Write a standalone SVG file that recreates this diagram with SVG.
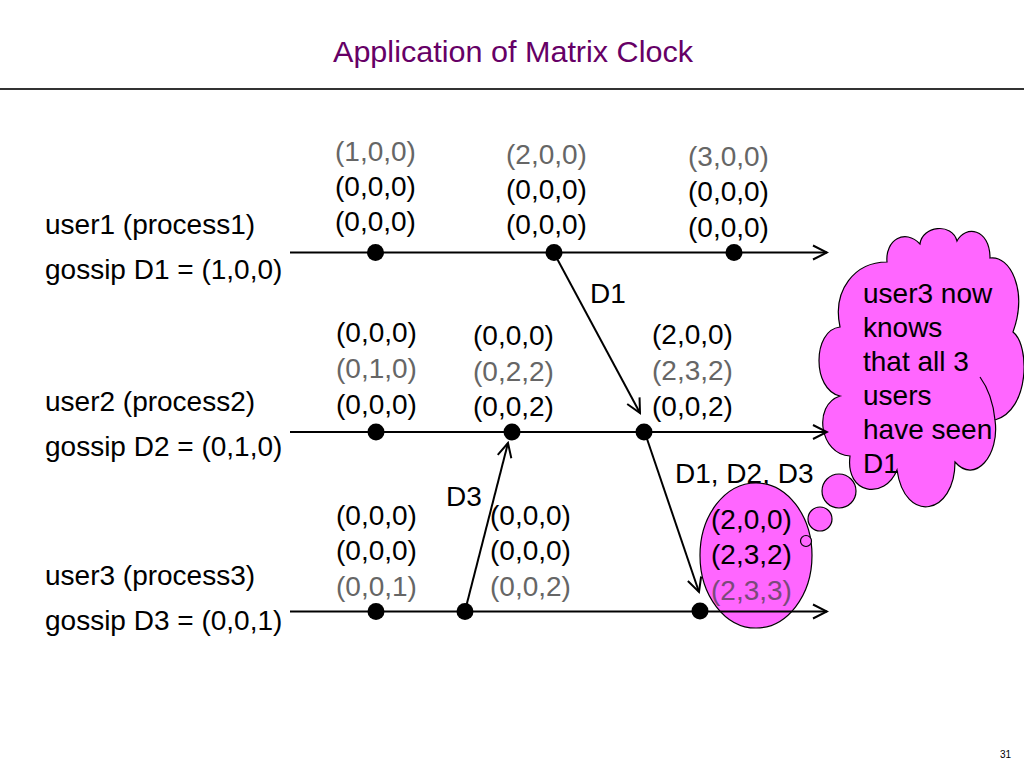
<svg xmlns="http://www.w3.org/2000/svg" width="1024" height="768" viewBox="0 0 1024 768">
<style>
text{font-family:"Liberation Sans",Arial,sans-serif;font-size:28px;fill:#000}
.g{fill:#666666}
.gp{fill:#7a4a7a}
.title{font-size:30px;fill:#660066}
.tl{stroke:#000;stroke-width:2;fill:none}
.msg{stroke:#000;stroke-width:2;fill:none}
.dot{fill:#000}
.pink{fill:#ff66ff;stroke:#000;stroke-width:1.2}
</style>
<defs>
<marker id="arr" markerUnits="userSpaceOnUse" viewBox="0 0 18 18" markerWidth="18" markerHeight="18" refX="16" refY="9" orient="auto">
<path d="M2,2 L16,9 L2,16" fill="none" stroke="#000" stroke-width="2"/>
</marker>
</defs>
<rect width="1024" height="768" fill="#fff"/>
<g id="title">
<text class="title" x="513" y="62" text-anchor="middle" textLength="360" lengthAdjust="spacingAndGlyphs">Application of Matrix Clock</text>
<line x1="0" y1="89" x2="1024" y2="89" stroke="#333" stroke-width="2"/>
</g>
<g id="labels">
<text x="45" y="234">user1 (process1)</text>
<text x="45" y="279">gossip D1 = (1,0,0)</text>
<text x="45" y="411">user2 (process2)</text>
<text x="45" y="456">gossip D2 = (0,1,0)</text>
<text x="45" y="585">user3 (process3)</text>
<text x="45" y="630">gossip D3 = (0,0,1)</text>
</g>
<g id="msg-label-d123">
<text x="675" y="483">D1, D2, D3</text>
</g>
<g id="thought-bubble">
<ellipse class="pink" cx="756" cy="555.5" rx="56" ry="72.5"/>
<circle class="pink" cx="806" cy="541" r="5.5"/>
<circle class="pink" cx="820" cy="519" r="12"/>
<circle class="pink" cx="839" cy="491" r="17"/>
<path class="pink" d="M887,262 C885,240 905,228 920,244 C922,226 952,222 957,241 C965,225 990,228 990,258 C1010,255 1028,290 1013,332 C1030,345 1030,410 995,420 C1000,455 975,485 955,462 C955,515 905,525 897,470 C885,500 845,495 850,456 C820,455 812,405 840,396 C812,390 812,330 840,327 C832,290 855,262 887,262 Z"/>
<path d="M980,377 C988,388 993,400 995,420" fill="none" stroke="#000" stroke-width="1.2"/>
<text x="863" y="303">user3 now</text>
<text x="863" y="337">knows</text>
<text x="863" y="371">that all 3</text>
<text x="863" y="405">users</text>
<text x="863" y="439">have seen</text>
<text x="863" y="473">D1</text>
</g>
<g id="connectors">
<line class="tl" x1="290" y1="252.5" x2="827" y2="252.5" marker-end="url(#arr)"/>
<line class="tl" x1="290" y1="432" x2="827" y2="432" marker-end="url(#arr)"/>
<line class="tl" x1="290" y1="611.5" x2="827" y2="611.5" marker-end="url(#arr)"/>
<line class="msg" x1="554" y1="253" x2="640" y2="413" marker-end="url(#arr)"/>
<line class="msg" x1="645" y1="433" x2="699" y2="592" marker-end="url(#arr)"/>
<line class="msg" x1="465" y1="611" x2="508" y2="443" marker-end="url(#arr)"/>
<text x="590" y="303">D1</text>
<text x="446" y="506">D3</text>
</g>
<g id="events">
<circle class="dot" cx="375.5" cy="252.5" r="8.5"/>
<circle class="dot" cx="554" cy="252.5" r="8.5"/>
<circle class="dot" cx="734" cy="252.5" r="8.5"/>
<circle class="dot" cx="376" cy="432" r="8.5"/>
<circle class="dot" cx="512" cy="432" r="8.5"/>
<circle class="dot" cx="644" cy="432" r="8.5"/>
<circle class="dot" cx="376" cy="611.5" r="8.5"/>
<circle class="dot" cx="465" cy="611.5" r="8.5"/>
<circle class="dot" cx="700" cy="611" r="8.5"/>
</g>
<g id="clock-u1-e1">
<text class="g" x="335" y="161">(1,0,0)</text>
<text x="335" y="196">(0,0,0)</text>
<text x="335" y="231">(0,0,0)</text>
</g>
<g id="clock-u1-e2">
<text class="g" x="506" y="164">(2,0,0)</text>
<text x="506" y="199">(0,0,0)</text>
<text x="506" y="234">(0,0,0)</text>
</g>
<g id="clock-u1-e3">
<text class="g" x="688" y="166">(3,0,0)</text>
<text x="688" y="201">(0,0,0)</text>
<text x="688" y="237">(0,0,0)</text>
</g>
<g id="clock-u2-e1">
<text x="336" y="342">(0,0,0)</text>
<text class="g" x="336" y="378">(0,1,0)</text>
<text x="336" y="414">(0,0,0)</text>
</g>
<g id="clock-u2-e2">
<text x="473" y="345">(0,0,0)</text>
<text class="g" x="473" y="381">(0,2,2)</text>
<text x="473" y="416">(0,0,2)</text>
</g>
<g id="clock-u2-e3">
<text x="652" y="344">(2,0,0)</text>
<text class="g" x="652" y="380">(2,3,2)</text>
<text x="652" y="416">(0,0,2)</text>
</g>
<g id="clock-u3-e1">
<text x="336" y="525">(0,0,0)</text>
<text x="336" y="560">(0,0,0)</text>
<text class="g" x="336" y="596">(0,0,1)</text>
</g>
<g id="clock-u3-e2">
<text x="490" y="525">(0,0,0)</text>
<text x="490" y="560">(0,0,0)</text>
<text class="g" x="490" y="596">(0,0,2)</text>
</g>
<g id="clock-u3-e3">
<text x="711" y="529">(2,0,0)</text>
<text x="711" y="564">(2,3,2)</text>
<text class="gp" x="711" y="600">(2,3,3)</text>
</g>
<g id="page-number">
<text x="1000" y="758" style="font-size:10px">31</text>
</g>
</svg>
